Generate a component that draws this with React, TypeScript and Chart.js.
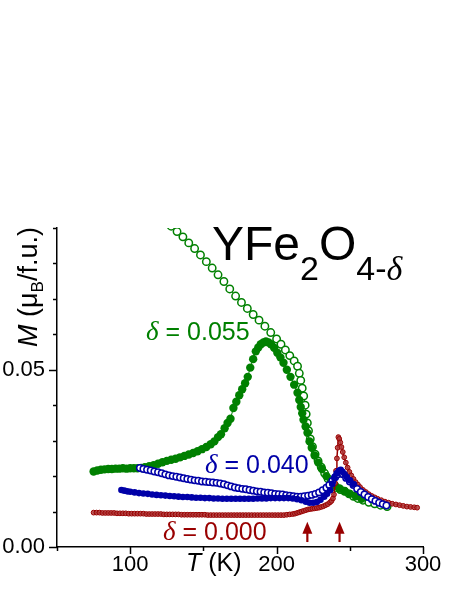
import React, { useEffect, useRef } from 'react';
import { Chart, registerables } from 'chart.js';

Chart.register(...registerables);

// delta = 0.055, field-cooled (open green)
const greenOpenT = [120, 124, 128, 132, 136, 140, 144, 148, 152, 156, 160, 164, 168, 172, 176, 180, 184, 188, 192, 196, 200, 203, 206, 209, 212, 214.3, 215.5, 216.5, 217.5, 218.5, 219.5, 220.2, 221, 221.8, 223, 224.5, 226.3, 228.3, 230.5, 232.8, 235.2, 237.8, 240.5, 243.5, 246.5, 249.5, 252.5, 255.5, 259, 263, 267, 271, 275.5];
const greenOpenM = [0.0935, 0.092, 0.0905, 0.089, 0.0875, 0.0858, 0.0842, 0.0824, 0.0805, 0.0787, 0.0768, 0.0749, 0.0728, 0.0708, 0.069, 0.0673, 0.0656, 0.064, 0.0623, 0.0605, 0.0587, 0.0572, 0.0556, 0.054, 0.0525, 0.051, 0.049, 0.047, 0.0448, 0.0426, 0.04, 0.0375, 0.035, 0.0328, 0.0305, 0.0283, 0.0262, 0.0243, 0.0225, 0.0208, 0.0192, 0.0178, 0.0168, 0.0162, 0.0157, 0.015, 0.0143, 0.0137, 0.0132, 0.0126, 0.0122, 0.0118, 0.0114];

// delta = 0.055, zero-field-cooled (filled green)
const greenFilledT = [75, 77.5, 80, 82.5, 85, 87.5, 90, 92.5, 95, 97.5, 100, 102.5, 105, 107.5, 110, 113, 116, 119, 122, 125, 128, 131, 134, 137, 140, 143, 146, 149, 152, 155, 157.5, 160, 162, 164.5, 166.5, 168.5, 170.5, 172.5, 174.5, 176.5, 178.5, 180.3, 182, 184, 185.8, 187.5, 189.2, 191, 192.7, 194.5, 196.2, 198.3, 200.5, 202.6, 204.7, 207, 209.5, 212, 214.3, 215.5, 216.5, 217.5, 218.4, 219.8, 221.1, 222.5, 224, 226, 228.5, 231, 234, 237, 240, 243, 246.5, 250, 254, 258];
const greenFilledM = [0.0213, 0.0216, 0.0218, 0.0219, 0.022, 0.022, 0.0221, 0.0221, 0.0222, 0.0221, 0.0222, 0.0222, 0.0222, 0.0223, 0.0225, 0.0228, 0.0231, 0.0235, 0.0239, 0.0243, 0.0246, 0.0249, 0.0253, 0.0257, 0.0261, 0.0265, 0.027, 0.0276, 0.0282, 0.029, 0.0298, 0.031, 0.0318, 0.0335, 0.035, 0.0362, 0.0392, 0.041, 0.0428, 0.0445, 0.0462, 0.048, 0.0506, 0.053, 0.0552, 0.0563, 0.0572, 0.0577, 0.058, 0.0577, 0.0572, 0.0562, 0.0548, 0.0535, 0.052, 0.05, 0.048, 0.0458, 0.0435, 0.0415, 0.0395, 0.0377, 0.0359, 0.034, 0.0322, 0.0298, 0.028, 0.0258, 0.0238, 0.022, 0.02, 0.0185, 0.0173, 0.0165, 0.0158, 0.015, 0.0143, 0.0136];

// delta = 0.040, zero-field-cooled (filled blue)
const blueFilledT = [94, 96, 98, 100, 103, 106, 109, 112, 115, 118, 121, 124, 127, 130, 133, 136, 139, 142, 145, 148, 151, 154, 157, 160, 163, 166, 169, 172, 175, 178, 181, 184, 187, 190, 193, 196, 199, 202, 205, 208, 211, 214, 217, 220, 222.5, 225, 227.5, 230, 232.5, 234.5, 236.5, 238, 239.5, 241, 242.5, 243.8, 245, 246.5, 248, 250, 252.5];
const blueFilledM = [0.0161, 0.0159, 0.0157, 0.0156, 0.0154, 0.0152, 0.0151, 0.015, 0.0148, 0.0147, 0.0146, 0.0145, 0.0144, 0.0143, 0.0142, 0.0141, 0.0141, 0.014, 0.0139, 0.0139, 0.0138, 0.0138, 0.0137, 0.0137, 0.0136, 0.0136, 0.0136, 0.0136, 0.0136, 0.0136, 0.0136, 0.0136, 0.0137, 0.0137, 0.0137, 0.0138, 0.0138, 0.0138, 0.0138, 0.0138, 0.0137, 0.0135, 0.0132, 0.0128, 0.0125, 0.0125, 0.0127, 0.0133, 0.0142, 0.015, 0.016, 0.0178, 0.0195, 0.0208, 0.0215, 0.0218, 0.0212, 0.0205, 0.0197, 0.0188, 0.0177];

// delta = 0.040, field-cooled (open blue)
const blueOpenT = [106.6, 109, 111.5, 114, 116.5, 119, 121.5, 124, 126.5, 129, 131.5, 134, 136.5, 139, 141.5, 144, 146.5, 149, 151.5, 154, 156.5, 159, 161.5, 164, 166.5, 169, 171.5, 174, 176.5, 179, 181.5, 184, 186.5, 189, 191.5, 194, 196.5, 199, 201.5, 204, 206.5, 209, 211.5, 214, 216.5, 219, 221.5, 224, 226.5, 229, 231.5, 234, 236, 238, 240, 241.8, 243.5, 245.3, 247.5, 250, 252.5, 255, 257.5, 260, 262.5, 265, 267.5, 270, 272.5, 275];
const blueOpenM = [0.0223, 0.022, 0.0218, 0.0216, 0.0213, 0.0211, 0.0208, 0.0205, 0.0202, 0.02, 0.0198, 0.0196, 0.0194, 0.0192, 0.019, 0.0188, 0.0187, 0.0185, 0.0184, 0.0183, 0.0182, 0.0181, 0.0179, 0.0177, 0.0174, 0.0171, 0.0168, 0.0166, 0.0164, 0.0163, 0.0161, 0.0159, 0.0157, 0.0156, 0.0154, 0.0153, 0.0152, 0.015, 0.0149, 0.0148, 0.0146, 0.0145, 0.0143, 0.0142, 0.0142, 0.0143, 0.0145, 0.0147, 0.015, 0.0154, 0.016, 0.0167, 0.0175, 0.0186, 0.0197, 0.0205, 0.021, 0.0205, 0.0195, 0.0185, 0.0175, 0.0164, 0.0155, 0.0148, 0.0141, 0.0135, 0.013, 0.0125, 0.0121, 0.0117];

// delta = 0.000 (dark red)
const redT = [75, 77, 79, 81, 83, 85, 87, 89, 91, 93, 95, 97, 99, 101, 103, 105, 107, 109, 111, 113, 115, 117, 119, 121, 123, 125, 127, 129, 131, 133, 135, 137, 139, 141, 143, 145, 147, 149, 151, 153, 155, 157, 159, 161, 163, 165, 167, 169, 171, 173, 175, 177, 179, 181, 183, 185, 187, 189, 191, 193, 195, 197, 199, 201, 203, 205, 207, 209, 211, 212.5, 214, 215.5, 217, 218.5, 220, 221.5, 223, 224.5, 226, 227.5, 229, 230.5, 232, 233.5, 235, 236.5, 237.5, 238.5, 239.2, 240, 240.6, 241.2, 241.7, 242.2, 242.8, 243.5, 244.3, 245.2, 246.2, 247.3, 248.5, 249.7, 251, 252.5, 254, 255.5, 257, 259, 261, 263, 265, 267, 269, 271.5, 274, 276.5, 279, 281.5, 284, 286.5, 289, 291.5, 294, 296];
const redM = [0.0097, 0.0097, 0.0097, 0.0096, 0.0096, 0.0096, 0.0096, 0.0096, 0.0095, 0.0095, 0.0095, 0.0095, 0.0094, 0.0094, 0.0094, 0.0094, 0.0094, 0.0094, 0.0093, 0.0093, 0.0093, 0.0093, 0.0093, 0.0093, 0.0092, 0.0092, 0.0092, 0.0092, 0.0092, 0.0092, 0.0091, 0.0091, 0.0091, 0.0091, 0.0091, 0.0091, 0.0091, 0.0091, 0.0091, 0.009, 0.009, 0.009, 0.009, 0.009, 0.009, 0.009, 0.009, 0.009, 0.009, 0.009, 0.009, 0.009, 0.009, 0.009, 0.009, 0.009, 0.009, 0.009, 0.009, 0.009, 0.009, 0.009, 0.009, 0.009, 0.009, 0.009, 0.0091, 0.0092, 0.0093, 0.0094, 0.0096, 0.0098, 0.01, 0.0102, 0.0104, 0.0106, 0.0107, 0.0108, 0.0109, 0.011, 0.0111, 0.0113, 0.0115, 0.0118, 0.0121, 0.0126, 0.013, 0.0137, 0.0148, 0.018, 0.0215, 0.025, 0.028, 0.031, 0.0305, 0.0295, 0.0282, 0.0268, 0.0253, 0.0238, 0.0224, 0.0212, 0.0202, 0.0192, 0.0183, 0.0176, 0.0169, 0.0161, 0.0155, 0.0149, 0.0144, 0.014, 0.0136, 0.0132, 0.0128, 0.0125, 0.0122, 0.012, 0.0118, 0.0116, 0.0114, 0.0113, 0.0112, 0.0111];

const xLabelled = [100, 200, 300];
const yLabelled = [0, 0.05];
const arrowT = [221, 243];
const arrowM = [0.0014, 0.0071];

const GREEN = '#008000';
const BLUE = '#0000a8';
const RED = '#990000';
const SANS = '"Liberation Sans", Arial, sans-serif';
const SERIF = '"Liberation Serif", "Times New Roman", serif';

const pts = (t: number[], m: number[]) => t.map((x, i) => ({ x, y: m[i] }));
const isIn = (arr: number[], v: number) => arr.some((a) => Math.abs(a - v) < 1e-9);

type Piece = { text: string; font: string; dy: number };
function drawPieces(ctx: CanvasRenderingContext2D, x: number, y: number, pieces: Piece[]) {
  let cx = x;
  for (const p of pieces) {
    ctx.font = p.font;
    ctx.fillText(p.text, cx, y + p.dy);
    cx += ctx.measureText(p.text).width;
  }
}

const decor = {
  id: 'decor',
  afterDraw(chart: any) {
    const ctx: CanvasRenderingContext2D = chart.ctx;
    const xs = chart.scales.x;
    const ys = chart.scales.y;
    ctx.save();
    // tick marks (outward)
    ctx.strokeStyle = '#000';
    ctx.lineWidth = 1.5;
    xs.ticks.forEach((t: any) => {
      const px = Math.round(xs.getPixelForValue(t.value)) + 0.5;
      const len = isIn(xLabelled, t.value) ? 7 : 4;
      ctx.beginPath();
      ctx.moveTo(px, ys.bottom);
      ctx.lineTo(px, ys.bottom + len);
      ctx.stroke();
    });
    ys.ticks.forEach((t: any) => {
      const py = Math.round(ys.getPixelForValue(t.value)) + 0.5;
      const len = isIn(yLabelled, t.value) ? 8 : 4;
      ctx.beginPath();
      ctx.moveTo(xs.left, py);
      ctx.lineTo(xs.left - len, py);
      ctx.stroke();
    });

    // arrows
    ctx.strokeStyle = RED;
    ctx.fillStyle = RED;
    arrowT.forEach((t) => {
      const px = xs.getPixelForValue(t);
      const yTail = ys.getPixelForValue(arrowM[0]);
      const yTip = ys.getPixelForValue(arrowM[1]);
      ctx.lineWidth = 2.2;
      ctx.beginPath();
      ctx.moveTo(px, yTail);
      ctx.lineTo(px, yTip + 10);
      ctx.stroke();
      ctx.beginPath();
      ctx.moveTo(px, yTip);
      ctx.lineTo(px - 5, yTip + 12);
      ctx.lineTo(px + 5, yTip + 12);
      ctx.closePath();
      ctx.fill();
    });

    ctx.textBaseline = 'alphabetic';
    ctx.textAlign = 'left';

    // title
    ctx.fillStyle = '#000';
    drawPieces(ctx, 212, 260, [
      { text: 'YFe', font: `48px ${SANS}`, dy: 0 },
      { text: '2', font: `34px ${SANS}`, dy: 20 },
      { text: 'O', font: `48px ${SANS}`, dy: 0 },
      { text: '4-', font: `34px ${SANS}`, dy: 20 },
      { text: 'δ', font: `italic 34px ${SERIF}`, dy: 20 },
    ]);

    // curve labels
    const lab = (x: number, y: number, color: string, val: string) => {
      ctx.fillStyle = color;
      drawPieces(ctx, x, y, [
        { text: 'δ', font: `italic 27px ${SERIF}`, dy: 0 },
        { text: ' = ' + val, font: `25px ${SANS}`, dy: 0 },
      ]);
    };
    lab(146, 340, GREEN, '0.055');
    lab(205, 473, BLUE, '0.040');
    lab(163, 540, RED, '0.000');

    // x-axis title
    ctx.fillStyle = '#000';
    drawPieces(ctx, 186, 571, [
      { text: 'T', font: `italic 25px ${SANS}`, dy: 0 },
      { text: ' (K)', font: `25px ${SANS}`, dy: 0 },
    ]);

    // y-axis title
    ctx.save();
    ctx.translate(37, 347);
    ctx.rotate(-Math.PI / 2);
    drawPieces(ctx, 0, 0, [
      { text: 'M', font: `italic 27px ${SANS}`, dy: 0 },
      { text: ' (μ', font: `27px ${SANS}`, dy: 0 },
      { text: 'B', font: `17px ${SANS}`, dy: 6 },
      { text: '/f.u.)', font: `27px ${SANS}`, dy: 0 },
    ]);
    ctx.restore();

    ctx.restore();
  },
};

export default function App() {
  const ref = useRef<HTMLCanvasElement | null>(null);
  useEffect(() => {
    document.body.style.margin = '0';
    if (!ref.current) return;
    const lineDs = (label: string, t: number[], m: number[], color: string, open: boolean, r: number, order: number) => ({
      label,
      data: pts(t, m),
      showLine: true,
      borderColor: color,
      borderWidth: 1,
      pointRadius: r,
      pointBorderWidth: open ? 1.5 : 0,
      pointBorderColor: color,
      pointBackgroundColor: open ? '#ffffff' : color,
      order,
    });
    const chart = new Chart(ref.current, {
      type: 'scatter',
      data: {
        datasets: [
          lineDs('ZFC 0.040', blueFilledT, blueFilledM, BLUE, false, 3.3, 0),
          lineDs('FC 0.040', blueOpenT, blueOpenM, BLUE, true, 3.2, 1),
          {
            ...lineDs('0.000', redT, redM, RED, false, 2.4, 2),
            borderWidth: 1.5,
            pointBackgroundColor: 'rgba(175,60,60,0.85)',
            pointBorderWidth: 1,
          },
          lineDs('ZFC 0.055', greenFilledT, greenFilledM, GREEN, false, 4.2, 3),
          lineDs('FC 0.055', greenOpenT, greenOpenM, GREEN, true, 3.7, 4),
        ],
      },
      options: {
        responsive: false,
        animation: false,
        events: [],
        layout: { padding: { top: 228, right: 34, left: 0, bottom: 0 } },
        plugins: { legend: { display: false }, tooltip: { enabled: false }, title: { display: false } },
        scales: {
          x: {
            type: 'linear',
            min: 50,
            max: 300,
            afterFit: (s: any) => { s.height = 44; },
            grid: { display: false, drawTicks: false },
            border: { display: true, color: '#000', width: 1.5 },
            ticks: {
              stepSize: 50,
              padding: 5,
              color: '#000',
              font: { family: SANS, size: 22 },
              maxRotation: 0,
              autoSkip: false,
              callback: (v: any) => (isIn(xLabelled, Number(v)) ? String(v) : ''),
            },
          },
          y: {
            type: 'linear',
            min: 0,
            max: 0.09,
            afterFit: (s: any) => { s.width = 57; },
            grid: { display: false, drawTicks: false },
            border: { display: true, color: '#000', width: 1.5 },
            ticks: {
              stepSize: 0.01,
              padding: 12,
              color: '#000',
              font: { family: SANS, size: 22 },
              autoSkip: false,
              callback: (v: any) => (isIn(yLabelled, Number(v)) ? Number(v).toFixed(2) : ''),
            },
          },
        },
      },
      plugins: [decor],
    });
    return () => chart.destroy();
  }, []);
  return (
    <div style={{ width: 457, height: 591, position: 'relative' }}>
      <canvas ref={ref} width={457} height={591} style={{ display: 'block' }} />
    </div>
  );
}
